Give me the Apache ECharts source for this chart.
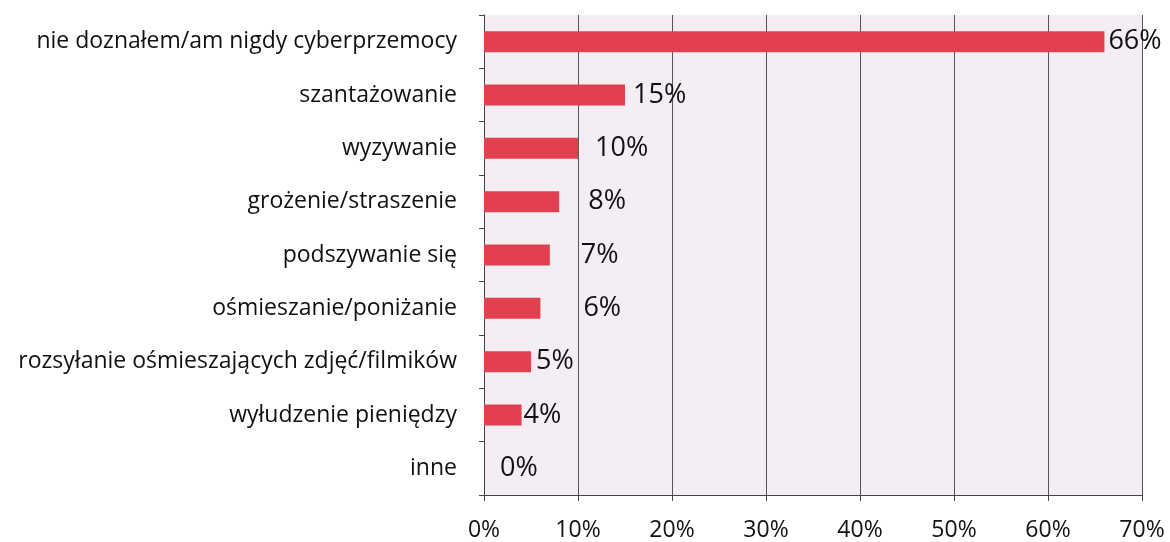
<!DOCTYPE html>
<html>
<head>
<meta charset="utf-8">
<script src="https://cdn.jsdelivr.net/npm/echarts@6/dist/echarts.min.js"></script>
<style>
  html, body { margin: 0; padding: 0; background: #fff; }
  #main { width: 1170px; height: 542px; }
</style>
</head>
<body>
<div id="main"></div>
<script>
// kategorie i wartości (w %)
var categories = [
  "nie doznałem/am nigdy cyberprzemocy",
  "szantażowanie",
  "wyzywanie",
  "grożenie/straszenie",
  "podszywanie się",
  "ośmieszanie/poniżanie",
  "rozsyłanie ośmieszających zdjęć/filmików",
  "wyłudzenie pieniędzy",
  "inne"
];
var values = [66, 15, 10, 8, 7, 6, 5, 4, 0];
var xTicks = [0, 10, 20, 30, 40, 50, 60, 70];

// odstęp etykiety od słupka (jak w oryginale)
var labelGap = [4, 8, 17, 29, 31, 43, 5, 2, 16];

var font = "'Open Sans', 'DejaVu Sans', sans-serif";

var chart = echarts.init(document.getElementById("main"));
var option = {
  backgroundColor: "#ffffff",
  animation: false,
  grid: {
    left: 484,
    right: 28,
    top: 15,
    bottom: 42,
    show: true,
    backgroundColor: "#f4eef4",
    borderWidth: 0
  },
  xAxis: {
    type: "value",
    min: xTicks[0],
    max: xTicks[xTicks.length - 1],
    interval: 10,
    axisLine: { show: true, lineStyle: { color: "#444", width: 1 } },
    axisTick: { show: true, length: 6, lineStyle: { color: "#444" } },
    splitLine: { show: true, lineStyle: { color: "#555", width: 1 } },
    axisLabel: {
      formatter: "{value}%",
      color: "#111",
      fontSize: 23,
      fontFamily: font,
      margin: 24
    }
  },
  yAxis: {
    type: "category",
    inverse: true,
    data: categories,
    axisLine: { show: true, lineStyle: { color: "#444", width: 1 } },
    axisTick: { show: true, length: 5, lineStyle: { color: "#444" } },
    axisLabel: {
      color: "#111",
      fontSize: 23,
      fontFamily: font,
      margin: 27
    }
  },
  series: [
    {
      type: "bar",
      barWidth: 21,
      itemStyle: { color: "#e2404e" },
      data: values.map(function (v, i) {
        return {
          value: v,
          label: { distance: labelGap[i] }
        };
      }),
      label: {
        show: true,
        position: "right",
        formatter: "{c}%",
        color: "#111",
        fontSize: 27,
        fontFamily: font
      }
    }
  ]
};
chart.setOption(option);
</script>
</body>
</html>
